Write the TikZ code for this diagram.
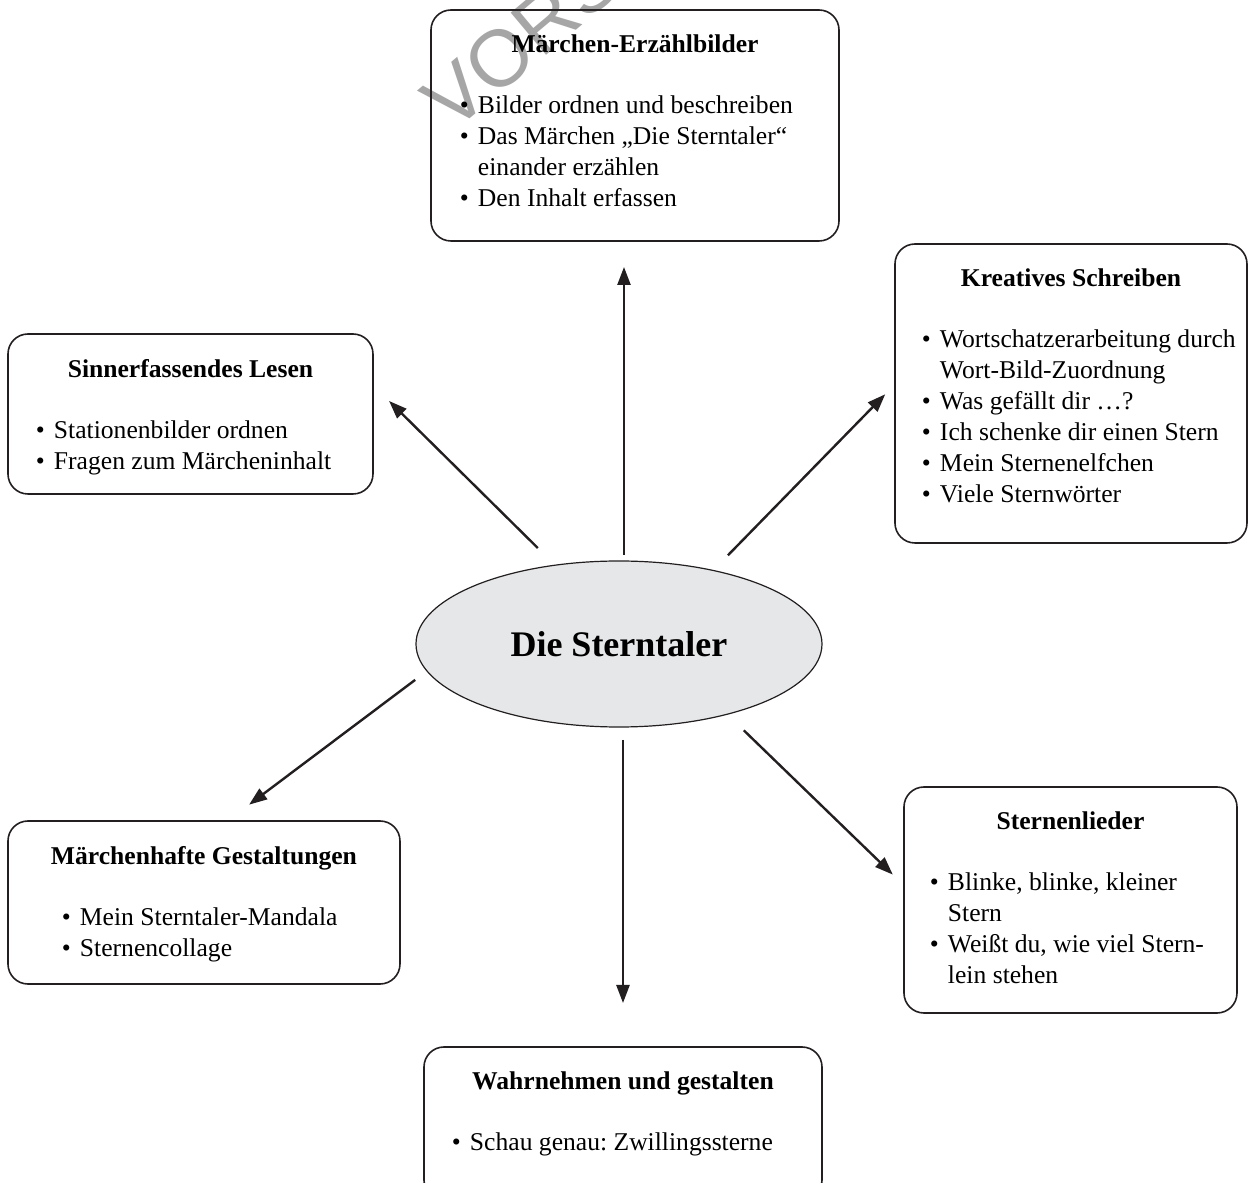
\documentclass[tikz,border=0pt]{standalone}
\usepackage{fontspec}
\setmainfont{Liberation Serif}
\newfontfamily\wmfont{Liberation Sans}
\usepackage{xcolor}
\usetikzlibrary{shapes, arrows.meta, positioning}
\frenchspacing

\definecolor{ellgrau}{HTML}{E6E7E8}
\definecolor{linie}{HTML}{231F20}

\newcommand{\kopf}[1]{\par\noindent\makebox[\linewidth][c]{\textbf{#1}}\par\vspace{15pt}}
\newcommand{\punkt}[1]{\par\noindent\makebox[9pt][l]{\textbullet}\mbox{#1}\par}
\newcommand{\weiter}[1]{\par\noindent\hspace*{9pt}\mbox{#1}\par}
\newcommand{\inhalt}[3]{\parbox[c][#1][t]{#2}{\setlength{\parskip}{0pt}#3}}

\begin{document}
\begin{tikzpicture}[
    box/.style={rectangle, draw=linie, line width=0.8pt, rounded corners=10pt, inner ysep=12.5pt, outer sep=0pt, font=\fontsize{12.8}{15.5}\selectfont},
    mitte/.style={ellipse, draw=linie, line width=0.6pt, fill=ellgrau, minimum width=203pt, minimum height=83pt, inner sep=0pt, outer sep=0pt, font=\fontsize{18}{22}\selectfont\bfseries},
    line/.style={draw=linie, line width=1.2pt, -{Triangle[length=9pt, width=6.5pt]}}
]
    \useasboundingbox (-309.5pt,-269.5pt) rectangle (315pt,322pt);
    \clip (-309.5pt,-269.5pt) rectangle (315pt,322pt);

    % Wasserzeichen
    \node [rotate=40, anchor=base west, inner sep=0pt, text=black!35, font=\wmfont\fontsize{40}{40}\selectfont] (wz) at (-83.2pt,254.9pt) {VORSCHAU};

    % Nodes
    \node [mitte] (stern) at (0,0) {Die Sterntaler};

    \node [box, inner xsep=14.5pt, above=160pt of stern, xshift=8pt] (maerchen) {\inhalt{90.5pt}{175pt}{%
        \kopf{Märchen-Erzählbilder}
        \punkt{Bilder ordnen und beschreiben}
        \punkt{Das Märchen „Die Sterntaler“}
        \weiter{einander erzählen}
        \punkt{Den Inhalt erfassen}}};

    \node [box, inner xsep=13.5pt, right=36.5pt of stern, yshift=125.25pt] (kreativ) {\inhalt{124.5pt}{149pt}{%
        \kopf{Kreatives Schreiben}
        \punkt{Wortschatzerarbeitung durch}
        \weiter{Wort-Bild-Zuordnung}
        \punkt{Was gefällt dir …?}
        \punkt{Ich schenke dir einen Stern}
        \punkt{Mein Sternenelfchen}
        \punkt{Viele Sternwörter}}};

    \node [box, inner xsep=14pt, left=21.5pt of stern, yshift=115pt] (lesen) {\inhalt{55pt}{154.5pt}{%
        \kopf{Sinnerfassendes Lesen}
        \punkt{Stationenbilder ordnen}
        \punkt{Fragen zum Märcheninhalt}}};

    \node [box, inner xsep=27pt, left=8pt of stern, yshift=-129.25pt] (gestalt) {\inhalt{56.5pt}{142pt}{%
        \kopf{Märchenhafte Gestaltungen}
        \punkt{Mein Sterntaler-Mandala}
        \punkt{Sternencollage}}};

    \node [box, inner xsep=13pt, right=41pt of stern, yshift=-128pt] (lieder) {\inhalt{88pt}{140.5pt}{%
        \kopf{Sternenlieder}
        \punkt{Blinke, blinke, kleiner}
        \weiter{Stern}
        \punkt{Weißt du, wie viel Stern-}
        \weiter{lein stehen}}};

    \node [box, inner xsep=14pt, below=160pt of stern, xshift=2pt] (wahr) {\inhalt{51.5pt}{171pt}{%
        \kopf{Wahrnehmen und gestalten}
        \punkt{Schau genau: Zwillingssterne}}};

    % Paths
    \path [line, shorten <=3pt, shorten >=13pt] ([xshift=2.5pt]stern.north) -- ([xshift=2.5pt]stern.north |- maerchen.south);
    \path [line, shorten <=12.2pt, shorten >=11.3pt] (stern.129.4) -- (lesen.9.3);
    \path [line, shorten <=10.6pt, shorten >=7pt] (stern.38.8) -- (kreativ.177.6);
    \path [line, shorten <=7.4pt, shorten >=13.6pt] (stern.188.8) -- (gestalt.74.9);
    \path [line, shorten <=11.6pt, shorten >=7.8pt] (stern.327.8) -- (lieder.175.9);
    \path [line, shorten <=6.5pt, shorten >=22pt] (stern.south -| wahr.north) -- (wahr.north);

\end{tikzpicture}
\end{document}
